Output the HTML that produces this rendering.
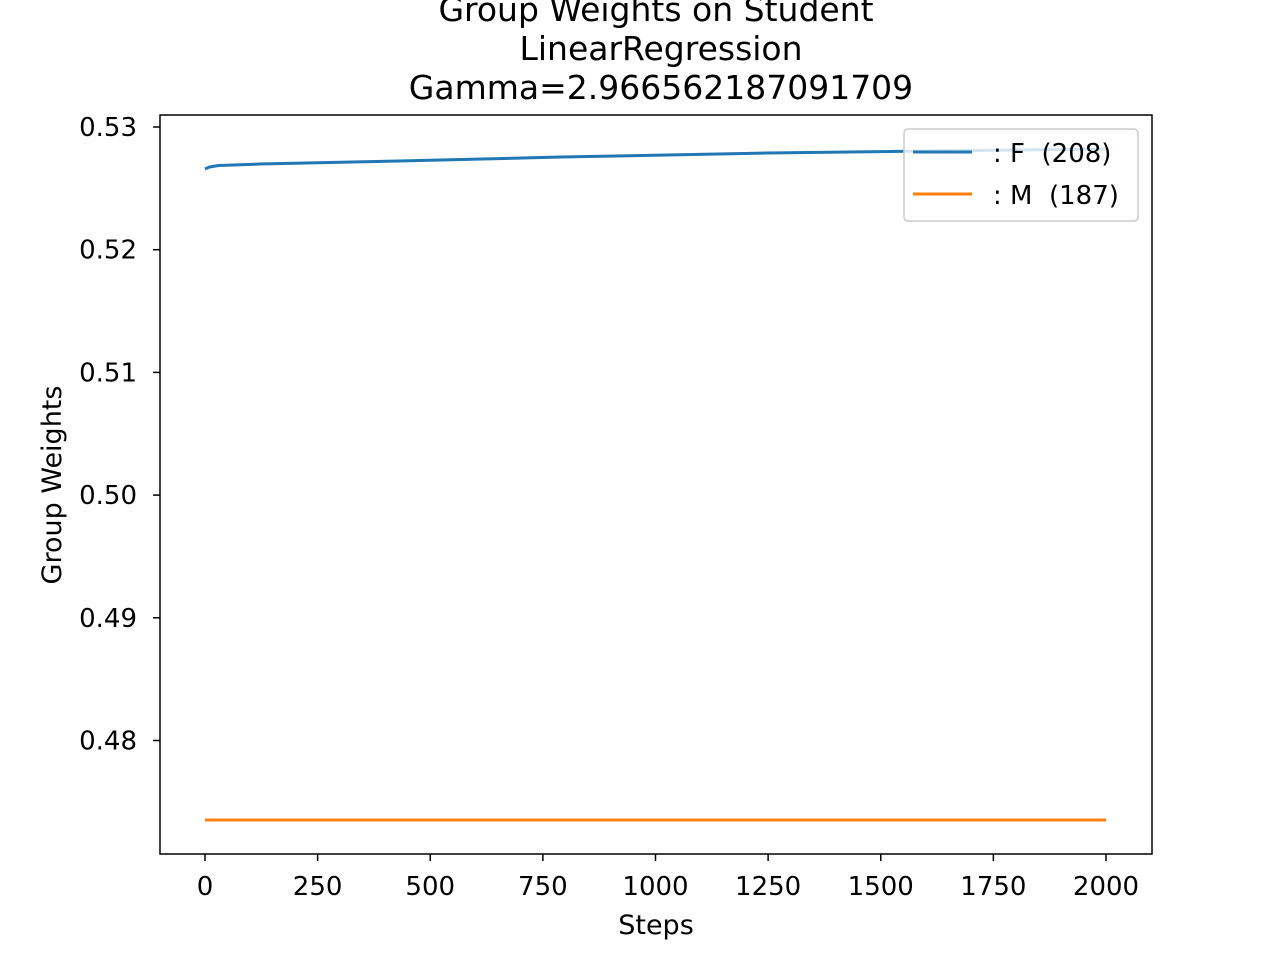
<!DOCTYPE html>
<html><head><meta charset="utf-8"><style>
body{margin:0;background:#fff;font-family:"Liberation Sans","DejaVu Sans",sans-serif}
</style></head><body>
<svg id="chart" width="1280" height="960" xmlns="http://www.w3.org/2000/svg" font-family="DejaVu Sans, Liberation Sans, sans-serif">
<rect width="1280" height="960" fill="#fff"/>
<g font-size="33" text-anchor="middle" fill="#000">
<text x="656" y="21">Group Weights on Student</text>
<text x="661" y="60">LinearRegression</text>
<text x="661" y="99">Gamma=2.966562187091709</text>
</g>
<g id="ticks"></g>
<g id="series"></g>
<rect x="160" y="115" width="992" height="739" fill="none" stroke="#000" stroke-width="1.5"/>
<text x="656" y="934" font-size="27" text-anchor="middle">Steps</text>
<text transform="translate(61,485) rotate(-90)" font-size="27" text-anchor="middle">Group Weights</text>
<g>
<rect x="904" y="129" width="234" height="92" rx="4" fill="#fff" fill-opacity="0.8" stroke="#ccc" stroke-width="1.5"/>
<g><line x1="913" y1="152" x2="972" y2="152" stroke="#1f77b4" stroke-width="3"/><text x="993" y="162" font-size="26" xml:space="preserve" style="white-space:pre">: F  (208)</text></g>
<g><line x1="913" y1="194" x2="972" y2="194" stroke="#ff7f0e" stroke-width="3"/><text x="993" y="204" font-size="26" xml:space="preserve" style="white-space:pre">: M  (187)</text></g>
</g>
</svg>
<script>
const xTicks=[0,250,500,750,1000,1250,1500,1750,2000];
const yTicks=[0.48,0.49,0.50,0.51,0.52,0.53];
const yTickLabels=["0.48","0.49","0.50","0.51","0.52","0.53"];
const stepsF=[0,10,30,120,430,790,1250,1600,2000];
const valuesF=[0.52658,0.52674,0.52686,0.52698,0.52723,0.52755,0.52788,0.52804,0.52821];
const stepsM=[0,2000];
const valuesM=[0.47352,0.47352];
const NS="http://www.w3.org/2000/svg";
const xs=v=>205+v*(901/2000);
const ys=v=>127+(0.53-v)*12270;
const tg=document.getElementById('ticks');
function mk(tag,attrs,parent){const e=document.createElementNS(NS,tag);for(const k in attrs)e.setAttribute(k,attrs[k]);parent.appendChild(e);return e;}
xTicks.forEach(t=>{
 const l=mk('line',{x1:xs(t),x2:xs(t),y1:854,y2:861,stroke:'#000','stroke-width':1.5},tg);
 
 
 const tx=mk('text',{x:xs(t),y:895,'font-size':26,'text-anchor':'middle'},tg);tx.textContent=t;
 
 
});
yTicks.forEach((t,i)=>{
 const l=mk('line',{x1:153,x2:160,y1:ys(t),y2:ys(t),stroke:'#000','stroke-width':1.5},tg);
 
 
 const tx=mk('text',{x:137,y:ys(t)+9,'font-size':26,'text-anchor':'end'},tg);tx.textContent=yTickLabels[i];
 
 
});
const sg=document.getElementById('series');
function line(st,vals,color,name){
 const p=mk('polyline',{points:st.map((s,i)=>xs(s)+','+ys(vals[i])).join(' '),fill:'none',stroke:color,'stroke-width':3,'stroke-linejoin':'round'},sg);
 
 
}
line(stepsF,valuesF,'#1f77b4','series-f-line');
line(stepsM,valuesM,'#ff7f0e','series-m-line');
</script>
</body></html>
